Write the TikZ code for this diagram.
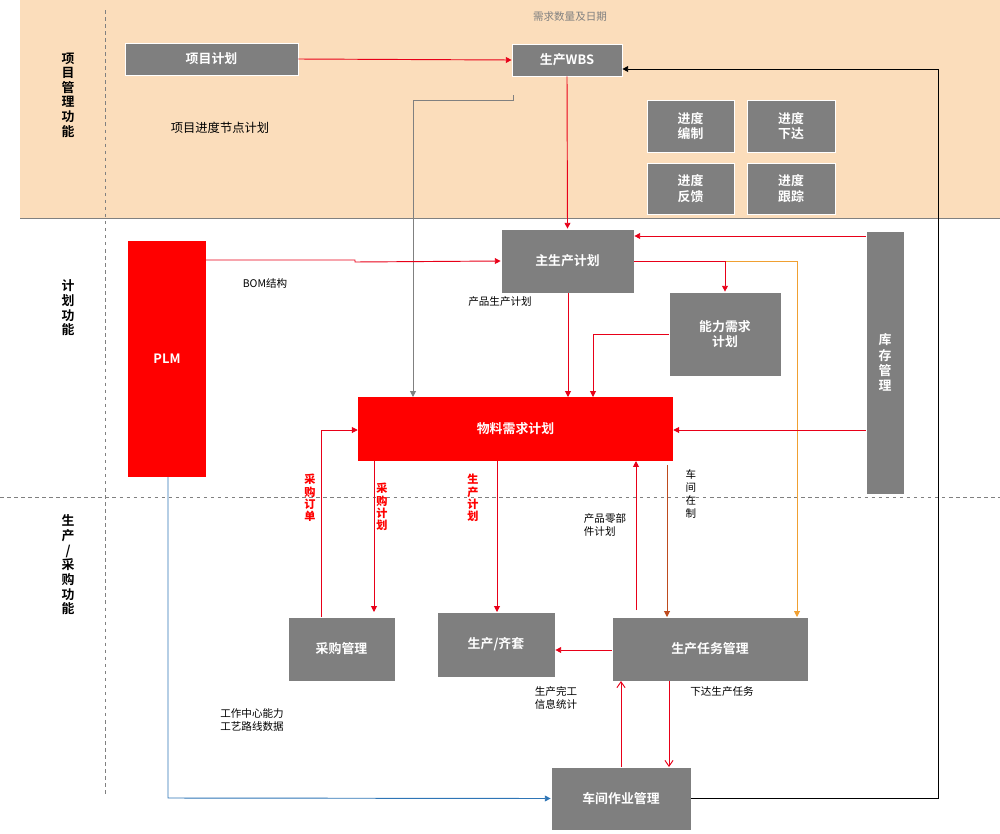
\documentclass[tikz,border=0pt]{standalone}
\usepackage{fontspec}
\setmainfont{Noto Sans CJK SC}
\newfontfamily\cjkb{Noto Sans CJK SC Bold}
\usetikzlibrary{arrows.meta}
\definecolor{peach}{RGB}{251,221,187}
\definecolor{boxg}{RGB}{127,127,127}
\definecolor{rd}{RGB}{232,0,24}
\definecolor{org}{RGB}{240,160,50}
\definecolor{brn}{RGB}{190,75,30}
\definecolor{blu}{RGB}{46,117,182}
\begin{document}
\begin{tikzpicture}[x=0.03cm,y=-0.03cm,
  gbox/.style={fill=boxg,draw=white,line width=0.6pt,text=white,font=\cjkb\fontsize{11}{13}\selectfont,align=center,inner sep=0pt},
  rbox/.style={fill=red,draw=none,text=white,font=\cjkb\fontsize{11}{13}\selectfont,align=center,inner sep=0pt},
  ra/.style={rd,line width=0.8pt,-{Triangle[length=5pt,width=5pt]}},
  lbl/.style={font=\fontsize{9}{11}\selectfont,align=left,inner sep=0pt},
  vl/.style={font=\bfseries\fontsize{9.5}{10.5}\selectfont,align=center,inner sep=0pt,text=red},
  lane/.style={font=\cjkb\fontsize{11}{12.5}\selectfont,align=center,inner sep=0pt}]
\useasboundingbox (0,0) rectangle (1000,834);
\fill[peach] (20,0) rectangle (1000,218);
\draw[gray,line width=0.8pt] (20,218) -- (1000,218);
\draw[gray,dashed,line width=0.5pt] (105,10) -- (105,795);
\draw[gray,dashed,line width=0.6pt] (0,497) -- (1000,497);
\node[lane] at (68,95) {项\\目\\管\\理\\功\\能};
\node[lane] at (68,308) {计\\划\\功\\能};
\node[lane] at (68,565) {生\\产\\/\\采\\购\\功\\能};
% nodes
\node[gbox,minimum width=173*0.03cm,minimum height=32*0.03cm] (xm) at (211.5,59) {项目计划};
\node[gbox,minimum width=110*0.03cm,minimum height=32*0.03cm] (wbs) at (567,60) {生产WBS};
\node[lbl,text=gray] (xq) at (570,17) {需求数量及日期};
\node[lbl,font=\fontsize{10.5}{12}\selectfont] (jd) at (220,128) {项目进度节点计划};
\node[gbox,minimum width=87*0.03cm,minimum height=52*0.03cm] (bz) at (690.5,126) {进度\\编制};
\node[gbox,minimum width=88*0.03cm,minimum height=52*0.03cm] (xd) at (791,126) {进度\\下达};
\node[gbox,minimum width=87*0.03cm,minimum height=51*0.03cm] (fk) at (690.5,188.5) {进度\\反馈};
\node[gbox,minimum width=88*0.03cm,minimum height=51*0.03cm] (gz) at (791,188.5) {进度\\跟踪};
\node[rbox,minimum width=78*0.03cm,minimum height=236*0.03cm] (plm) at (167,359) {PLM};
\node[gbox,minimum width=133*0.03cm,minimum height=64*0.03cm] (zs) at (567.5,261) {主生产计划};
\node[gbox,minimum width=112*0.03cm,minimum height=84*0.03cm] (nl) at (725,334) {能力需求\\计划};
\node[gbox,minimum width=38*0.03cm,minimum height=263*0.03cm] (kc) at (885,362.5) {库\\存\\管\\理};
\node[rbox,minimum width=315*0.03cm,minimum height=64*0.03cm] (wl) at (515.5,429) {物料需求计划};
\node[gbox,minimum width=107*0.03cm,minimum height=64*0.03cm] (cg) at (341.5,649) {采购管理};
\node[gbox,minimum width=118*0.03cm,minimum height=65*0.03cm] (sc) at (496,644.5) {生产/齐套};
\node[gbox,minimum width=196*0.03cm,minimum height=64*0.03cm] (rw) at (710,649) {生产任务管理};
\node[gbox,minimum width=140*0.03cm,minimum height=63*0.03cm] (cj) at (621,798.5) {车间作业管理};
% labels
\node[lbl] at (265,283) {BOM结构};
\node[lbl] at (500,302) {产品生产计划};
\node[vl] at (310,498) {采\\购\\订\\单};
\node[vl] at (382,507) {采\\购\\计\\划};
\node[vl] at (473,498) {生\\产\\计\\划};
\node[lbl] at (605,525) {产品零部\\件计划};
\node[lbl,align=center] at (691,494) {车\\间\\在\\制};
\node[lbl] at (556,698) {生产完工\\信息统计};
\node[lbl] at (722,692) {下达生产任务};
\node[lbl] at (252,720) {工作中心能力\\工艺路线数据};
% connectors
\draw[ra] (xm.east) -- (wbs.west);
\draw[black,line width=0.8pt,-{Triangle[length=5pt,width=5pt]}] (cj.east |- 0,798) -- (938,798) -- (938,69) -- (wbs.east |- 0,69);
\coordinate (gs) at (513,95);
\draw[gray,line width=0.8pt,-{Triangle[length=5pt,width=5pt]}] (gs) -- (513,100) -- (413,100) -- (413,397);
\draw[ra] (wbs.south) -- (zs.north);
\draw[ra] (plm.east |- 0,260) -- (355,260) -- (355,262) -- (zs.west);
\draw[ra] (568,293) -- (568,397);
\draw[ra] (kc.west |- 0,236) -- (zs.east |- 0,236);
\draw[org,line width=0.8pt,-{Triangle[length=5pt,width=5pt]}] (zs.east) -- (797,261) -- (797,617);
\draw[ra] (zs.east) -- (725,261) -- (nl.north);
\draw[ra] (nl.west) -- (593,334) -- (593,397);
\draw[ra] (kc.west |- 0,430) -- (wl.east |- 0,430);
\draw[ra] (321,617) -- (321,430) -- (wl.west |- 0,430);
\draw[ra] (374,461) -- (374,612);
\draw[ra] (497,461) -- (497,612);
\draw[ra] (636,610) -- (636,461);
\draw[brn,line width=0.8pt,-{Triangle[length=5pt,width=5pt]}] (667,465) -- (667,617);
\draw[ra] (rw.west |- 0,650) -- (sc.east |- 0,650);
\draw[rd,line width=0.8pt,-{Straight Barb[length=5pt,width=7pt]}] (621,767) -- (621,681);
\draw[rd,line width=0.8pt,-{Straight Barb[length=5pt,width=7pt]}] (669,681) -- (669,767);
\draw[blu,line width=0.8pt,-{Triangle[length=5pt,width=5pt]}] (plm.south -| 168,0) -- (168,798) -- (cj.west);
\end{tikzpicture}
\end{document}
